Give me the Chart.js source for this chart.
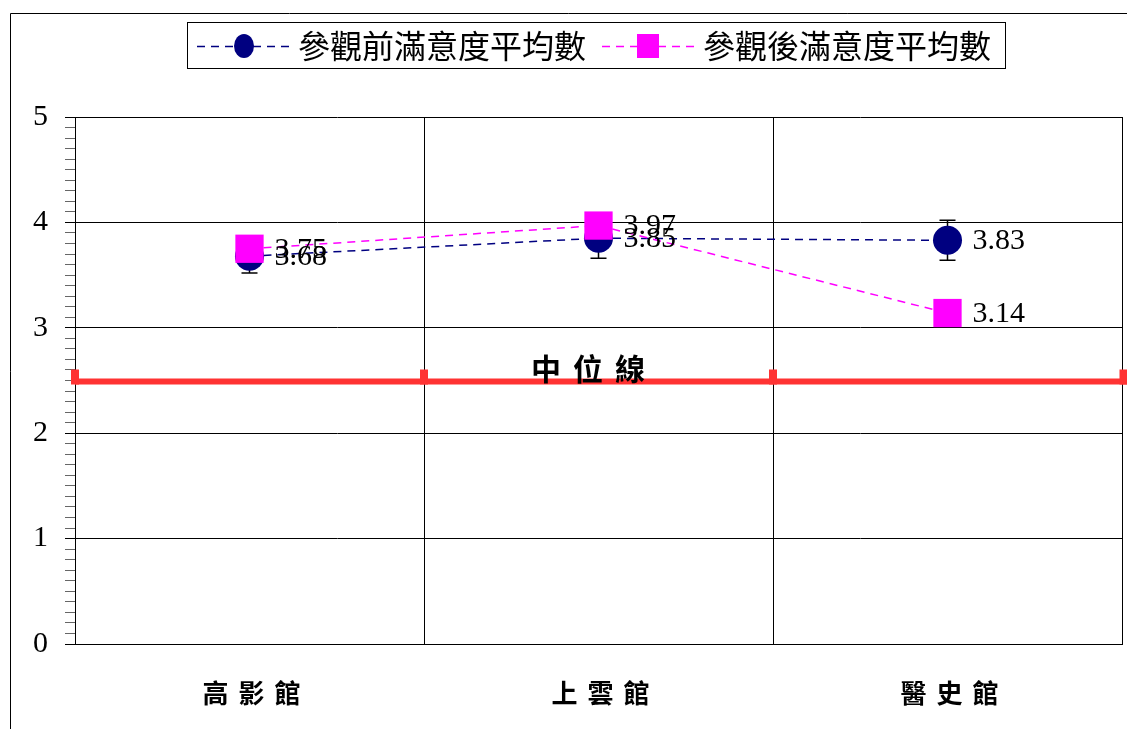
<!DOCTYPE html>
<html>
<head>
<meta charset="utf-8">
<script src="https://cdn.jsdelivr.net/npm/chart.js@4/dist/chart.umd.min.js"></script>
<style>
  html, body { margin: 0; padding: 0; background: #fff; }
  #wrap { position: relative; width: 1127px; height: 729px; }
</style>
</head>
<body>
<div id="wrap"><canvas id="c" width="1127" height="729"></canvas></div>
<script>
// Museums surveyed
const categories = ['高影館', '上雲館', '醫史館'];
// Mean satisfaction before / after the visit
const beforeMeans = [3.68, 3.85, 3.83];
const afterMeans = [3.75, 3.97, 3.14];
// Error half-widths for the "before" means
const beforeErr = [0.16, 0.19, 0.19];
// Scale midpoint reference line
const medianValue = 2.5;
const medianLabel = '中位線';
const seriesNames = ['參觀前滿意度平均數', '參觀後滿意度平均數'];
const yMin = 0, yMax = 5, yMinorStep = 0.1;

const NAVY = '#000080';
const MAGENTA = '#FF00FF';
const RED = '#FF3333';
const DASH = [8, 6];
const SERIF = '"Liberation Serif", "DejaVu Serif", serif';
const CJK = '"Noto Sans CJK TC", "Noto Sans CJK SC", sans-serif';

const isInt = v => Math.abs(v - Math.round(v)) < 1e-6;

// Outer frame lines
const framePlugin = {
  id: 'frame',
  beforeDraw(chart) {
    const ctx = chart.ctx;
    ctx.save();
    ctx.strokeStyle = '#000';
    ctx.lineWidth = 1;
    ctx.beginPath();
    ctx.moveTo(10.5, chart.height);
    ctx.lineTo(10.5, 13.5);
    ctx.lineTo(chart.width, 13.5);
    ctx.stroke();
    ctx.restore();
  }
};

// Median reference line with boundary ticks and its caption
const medianPlugin = {
  id: 'median',
  afterDraw(chart) {
    const ctx = chart.ctx;
    const y = chart.scales.y.getPixelForValue(medianValue);
    const a = chart.chartArea;
    ctx.save();
    ctx.fillStyle = RED;
    ctx.fillRect(a.left, y - 2, chart.width - a.left, 6);
    const n = categories.length;
    const step = (a.right - a.left) / n;
    for (let i = 0; i <= n; i++) {
      let x = a.left + i * step;
      if (i === n) x = x + 1.5;
      ctx.fillRect(x - 4, y - 11, 8, 15);
    }
    ctx.fillStyle = '#000';
    ctx.font = 'bold 30px ' + CJK;
    ctx.letterSpacing = '12px';
    ctx.textAlign = 'center';
    ctx.textBaseline = 'middle';
    ctx.fillText(medianLabel, a.left + (a.right - a.left) * 0.49 + 6, y - 12);
    ctx.restore();
  }
};

// Vertical error bars on the "before" series
const errorPlugin = {
  id: 'errbars',
  beforeDatasetsDraw(chart) {
    const ctx = chart.ctx;
    const meta = chart.getDatasetMeta(1);
    const ys = chart.scales.y;
    ctx.save();
    ctx.strokeStyle = '#000';
    ctx.lineWidth = 1.5;
    meta.data.forEach((pt, i) => {
      const v = beforeMeans[i], e = beforeErr[i];
      const y1 = ys.getPixelForValue(v - e), y2 = ys.getPixelForValue(v + e);
      ctx.beginPath();
      ctx.moveTo(pt.x, y1); ctx.lineTo(pt.x, y2);
      ctx.moveTo(pt.x - 8, y1); ctx.lineTo(pt.x + 8, y1);
      ctx.moveTo(pt.x - 8, y2); ctx.lineTo(pt.x + 8, y2);
      ctx.stroke();
    });
    ctx.restore();
  }
};

// Value labels, category labels and legend
const textPlugin = {
  id: 'texts',
  afterDraw(chart) {
    const ctx = chart.ctx;
    ctx.save();
    // value labels
    ctx.fillStyle = '#000';
    ctx.font = '30px ' + SERIF;
    ctx.textAlign = 'left';
    ctx.textBaseline = 'middle';
    [1, 0].forEach(di => {
      const meta = chart.getDatasetMeta(di);
      const vals = chart.data.datasets[di].data;
      meta.data.forEach((pt, i) => {
        ctx.fillText(vals[i].toFixed(2), pt.x + 25, pt.y + 1);
      });
    });
    // category labels
    const xs = chart.scales.x;
    ctx.font = 'bold 26px ' + CJK;
    ctx.letterSpacing = '10px';
    ctx.textAlign = 'center';
    categories.forEach((c, i) => {
      ctx.fillText(c, xs.getPixelForValue(i) + 5 + 2, 693);
    });
    ctx.letterSpacing = '0px';
    // legend
    ctx.strokeStyle = '#000';
    ctx.lineWidth = 1;
    ctx.strokeRect(187.5, 22.5, 818, 46);
    const ly = 46;
    const items = [
      { color: NAVY, x0: 197, x1: 290, mx: 244, tx: 298, shape: 'circle', text: seriesNames[0] },
      { color: MAGENTA, x0: 602, x1: 695, mx: 648, tx: 703, shape: 'rect', text: seriesNames[1] }
    ];
    items.forEach(it => {
      ctx.strokeStyle = it.color;
      ctx.lineWidth = 1.5;
      ctx.setLineDash(DASH);
      ctx.beginPath();
      ctx.moveTo(it.x0, ly + 0.5); ctx.lineTo(it.x1, ly + 0.5);
      ctx.stroke();
      ctx.setLineDash([]);
      ctx.fillStyle = it.color;
      if (it.shape === 'circle') {
        ctx.beginPath();
        ctx.ellipse(it.mx, ly, 10, 12, 0, 0, Math.PI * 2);
        ctx.fill();
      } else {
        ctx.fillRect(it.mx - 11, ly - 12, 22, 24);
      }
      ctx.fillStyle = '#000';
      ctx.font = '32px ' + CJK;
      ctx.textAlign = 'left';
      ctx.textBaseline = 'middle';
      ctx.fillText(it.text, it.tx, ly);
    });
    ctx.restore();
  }
};

new Chart(document.getElementById('c'), {
  type: 'line',
  data: {
    labels: categories,
    datasets: [
      {
        label: seriesNames[1],
        data: afterMeans,
        borderColor: MAGENTA,
        backgroundColor: MAGENTA,
        borderWidth: 1.5,
        borderDash: DASH,
        pointStyle: 'rect',
        pointRadius: 20,
        pointBorderWidth: 0,
        pointBackgroundColor: MAGENTA,
        fill: false,
        tension: 0,
        order: 0
      },
      {
        label: seriesNames[0],
        data: beforeMeans,
        borderColor: NAVY,
        backgroundColor: NAVY,
        borderWidth: 1.5,
        borderDash: DASH,
        pointStyle: 'circle',
        pointRadius: 14.5,
        pointBorderWidth: 0,
        pointBackgroundColor: NAVY,
        fill: false,
        tension: 0,
        order: 1
      }
    ]
  },
  options: {
    responsive: false,
    animation: false,
    devicePixelRatio: 1,
    layout: { autoPadding: false, padding: { top: 117, left: 0, right: 5, bottom: 0 } },
    plugins: { legend: { display: false }, tooltip: { enabled: false } },
    scales: {
      x: {
        type: 'category',
        offset: true,
        grid: { offset: true, color: '#000', lineWidth: 1, drawTicks: false },
        border: { color: '#000', width: 1 },
        ticks: { display: false },
        afterFit(s) { s.height = 85; }
      },
      y: {
        min: yMin,
        max: yMax,
        grid: {
          color: c => isInt(c.tick.value) ? '#000' : 'rgba(0,0,0,0)',
          tickColor: c => isInt(c.tick.value) ? '#000' : '#666',
          tickLength: 10,
          lineWidth: 1
        },
        border: { color: '#000', width: 1 },
        ticks: {
          stepSize: yMinorStep,
          autoSkip: false,
          color: '#000',
          padding: 17,
          font: { family: SERIF, size: 30 },
          callback: v => isInt(v) ? String(Math.round(v)) : ''
        },
        afterFit(s) { s.width = 75; }
      }
    }
  },
  plugins: [framePlugin, errorPlugin, medianPlugin, textPlugin]
});
</script>
</body>
</html>
